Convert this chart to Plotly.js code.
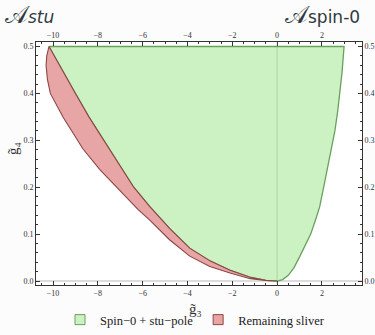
<!DOCTYPE html>
<html><head><meta charset="utf-8">
<script src="https://cdn.plot.ly/plotly-3.0.1.min.js"></script>
<style>html,body{margin:0;padding:0;background:#fcfcfc;}#c{width:375px;height:335px;}</style>
</head><body><div id="c"></div>
<script>
// Green region: left boundary (top → origin) and right boundary (origin → top)
const leftG3 = [-10.18, -9.6, -9.0, -8.4, -7.75, -7.0, -6.4, -5.67, -4.8, -3.9, -3.0, -2.1, -1.2, -0.5, 0];
const leftG4 = [0.5, 0.45, 0.4, 0.35, 0.3, 0.245, 0.2, 0.158, 0.112, 0.07, 0.043, 0.023, 0.008, 0.0015, 0];
const rightG3 = [0, 0.25, 0.5, 0.75, 1.01, 1.25, 1.5, 1.7, 1.9, 2.1, 2.28, 2.45, 2.58, 2.7, 2.8, 2.9, 2.99];
const rightG4 = [0, 0.003, 0.012, 0.028, 0.052, 0.075, 0.1, 0.128, 0.158, 0.205, 0.25, 0.285, 0.32, 0.36, 0.4, 0.445, 0.5];
// Red sliver: outer boundary (top → origin)
const outerG3 = [-10.18, -10.28, -10.31, -10.25, -10.12, -9.85, -9.55, -9.1, -8.67, -7.9, -7.0, -6.2, -5.67, -4.8, -3.9, -3.0, -2.1, -1.2, -0.5, 0];
const outerG4 = [0.5, 0.48, 0.46, 0.43, 0.4, 0.375, 0.349, 0.315, 0.282, 0.237, 0.192, 0.152, 0.1295, 0.088, 0.053, 0.031, 0.017, 0.005, 0.001, 0];
const xTicks = [-10, -8, -6, -4, -2, 0, 2];
const yTicks = [0, 0.1, 0.2, 0.3, 0.4, 0.5];
const seriesNames = ['Spin\u22120 + stu\u2212pole', 'Remaining sliver'];

const greenX = leftG3.concat(rightG3.slice(1)).concat([leftG3[0]]);
const greenY = leftG4.concat(rightG4.slice(1)).concat([leftG4[0]]);
const redX = outerG3.concat(leftG3.slice().reverse());
const redY = outerG4.concat(leftG4.slice().reverse());

const serif = "'Liberation Serif', 'DejaVu Serif', serif";
const greenFill = 'rgb(204,242,196)', greenLine = 'rgb(104,160,92)';
const redFill = 'rgb(232,165,165)', redLine = 'rgb(140,70,70)';
const traces = [
  {x: greenX, y: greenY, type: 'scatter', mode: 'lines', fill: 'toself',
   fillcolor: greenFill, line: {color: greenLine, width: 1.3},
   showlegend: false, hoverinfo: 'skip'},
  {x: redX, y: redY, type: 'scatter', mode: 'lines', fill: 'toself',
   fillcolor: redFill, line: {color: redLine, width: 1.1},
   showlegend: false, hoverinfo: 'skip'},
  {x: [null], y: [null], type: 'scatter', mode: 'markers', name: seriesNames[0],
   marker: {symbol: 'square', size: 10, color: greenFill, line: {color: greenLine, width: 1}}},
  {x: [null], y: [null], type: 'scatter', mode: 'markers', name: seriesNames[1],
   marker: {symbol: 'square', size: 10, color: redFill, line: {color: redLine, width: 1}}},
  {x: [0], y: [0], xaxis: 'x2', yaxis: 'y2', mode: 'markers', marker: {opacity: 0},
   showlegend: false, hoverinfo: 'skip'}
];
function tf() { return {family: serif, size: 8, color: '#333'}; }
function ax(extra) {
  return Object.assign({
    ticks: 'inside', ticklen: 4, tickcolor: '#333', tickwidth: 1,
    showgrid: false, showline: true, linecolor: '#333', linewidth: 1,
    tickfont: tf(), automargin: false
  }, extra);
}
const xr = [-10.76, 3.79], yr = [-0.0085, 0.5096];
const layout = {
  width: 375, height: 335,
  paper_bgcolor: '#fcfcfc', plot_bgcolor: '#ffffff',
  margin: {l: 36, r: 13, t: 42, b: 50},
  showlegend: true,
  legend: {orientation: 'h', x: 0.52, xanchor: 'center', xref: 'container', yref: 'container', y: -0.04, yanchor: 'bottom',
    font: {family: serif, size: 12.5, color: '#222'}, bgcolor: 'rgba(0,0,0,0)', itemwidth: 30, tracegroupgap: 0},
  xaxis: ax({range: xr, tickvals: xTicks, zeroline: false,
    minor: {dtick: 0.5, tick0: 0, ticks: 'inside', ticklen: 2, tickcolor: '#333'}}),
  yaxis: ax({range: yr, tickvals: yTicks, tickformat: '.1f', zeroline: true,
    zerolinecolor: '#dcdcdc', zerolinewidth: 2,
    minor: {dtick: 0.02, tick0: 0, ticks: 'inside', ticklen: 2, tickcolor: '#333'}}),
  xaxis2: ax({range: xr, tickvals: xTicks, overlaying: 'x', side: 'top', zeroline: false,
    minor: {dtick: 0.5, tick0: 0, ticks: 'inside', ticklen: 2, tickcolor: '#333'}}),
  yaxis2: ax({range: yr, tickvals: yTicks, tickformat: '.1f', overlaying: 'y', side: 'right', zeroline: false,
    minor: {dtick: 0.02, tick0: 0, ticks: 'inside', ticklen: 2, tickcolor: '#333'}}),
  shapes: [
    {type: 'line', xref: 'x', yref: 'paper', x0: 0, x1: 0, y0: 0, y1: 1, layer: 'above',
     line: {color: 'rgba(110,150,110,0.35)', width: 1}}
  ],
  annotations: [
    {xref: 'paper', yref: 'paper', x: -0.1, y: 1.045, xanchor: 'left', yanchor: 'bottom', showarrow: false,
     text: '<span style="font-size:24px">\uD835\uDC9C</span><i>stu</i>', font: {family: 'DejaVu Sans, sans-serif', size: 17, color: '#2f3b40'}},
    {xref: 'paper', yref: 'paper', x: 1.0, y: 1.045, xanchor: 'right', yanchor: 'bottom', showarrow: false,
     text: '<span style="font-size:24px">\uD835\uDC9C</span>spin-0', font: {family: 'DejaVu Sans, sans-serif', size: 17, color: '#2f3b40'}},
    {xref: 'paper', yref: 'paper', x: 0.49, y: -0.1, xanchor: 'center', yanchor: 'middle', showarrow: false,
     text: 'g\u0303\u2083', font: {family: serif, size: 15, color: '#333'}},
    {xref: 'paper', yref: 'paper', x: -0.07, y: 0.56, xanchor: 'center', yanchor: 'middle', showarrow: false, textangle: -90,
     text: 'g\u0303\u2084', font: {family: serif, size: 15, color: '#333'}}
  ]
};
Plotly.newPlot('c', traces, layout, {staticPlot: true, displayModeBar: false});
</script></body></html>
